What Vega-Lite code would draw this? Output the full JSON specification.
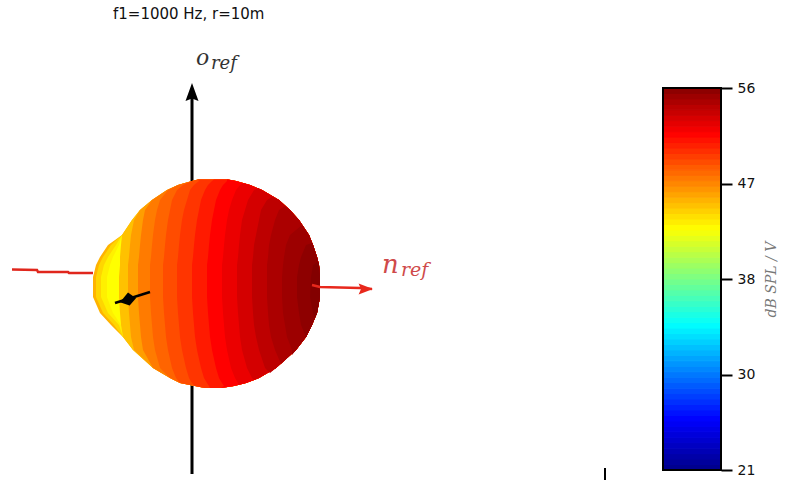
{"$schema":"https://vega.github.io/schema/vega-lite/v6.json","width":788,"height":480,"padding":0,"autosize":{"type":"none"},"background":"white","view":{"stroke":null},
"title":{"text":"f1=1000 Hz, r=10m","anchor":"start","frame":"group","dx":113,"offset":-22,"font":"DejaVu Sans","fontSize":15,"fontWeight":"normal","color":"#111"},
"datasets":{"balloon":[
{"v":45.5,"y":179.5,"x":198,"r":228},{"v":45.5,"y":181,"x":192,"r":236},{"v":45.5,"y":185,"x":178,"r":250},{"v":45.5,"y":190,"x":167,"r":262},{"v":45.5,"y":200,"x":152,"r":279},{"v":45.5,"y":210,"x":140,"r":290},{"v":45.5,"y":220,"x":132,"r":299},{"v":45.5,"y":235,"x":122,"r":309},{"v":45.5,"y":245,"x":108,"r":313},{"v":45.5,"y":257,"x":100,"r":317},{"v":45.5,"y":265,"x":96,"r":319},{"v":45.5,"y":277,"x":93,"r":320},{"v":45.5,"y":297,"x":93,"r":320},{"v":45.5,"y":313,"x":100,"r":317},{"v":45.5,"y":325,"x":111,"r":312},{"v":45.5,"y":337,"x":123,"r":306},{"v":45.5,"y":350,"x":133,"r":296},{"v":45.5,"y":368,"x":153,"r":276},{"v":45.5,"y":378,"x":170,"r":259},{"v":45.5,"y":383,"x":180,"r":246},{"v":45.5,"y":386,"x":195,"r":234},{"v":45.5,"y":388,"x":205,"r":221},
{"v":44.3,"y":235,"x":122,"r":125},{"v":44.3,"y":245,"x":111,"r":125},{"v":44.3,"y":257,"x":103,"r":125},{"v":44.3,"y":265,"x":99,"r":125},{"v":44.3,"y":277,"x":96,"r":125},{"v":44.3,"y":297,"x":96,"r":125},{"v":44.3,"y":313,"x":103,"r":125},{"v":44.3,"y":325,"x":114,"r":125},{"v":44.3,"y":337,"x":123,"r":125},
{"v":43.4,"y":235,"x":122,"r":125},{"v":43.4,"y":245,"x":116,"r":125},{"v":43.4,"y":257,"x":108,"r":125},{"v":43.4,"y":265,"x":104,"r":125},{"v":43.4,"y":277,"x":101,"r":125},{"v":43.4,"y":297,"x":101,"r":125},{"v":43.4,"y":313,"x":108,"r":125},{"v":43.4,"y":325,"x":119,"r":125},{"v":43.4,"y":337,"x":123,"r":125},
{"v":42.9,"y":235,"x":122,"r":125},{"v":42.9,"y":245,"x":119,"r":125},{"v":42.9,"y":257,"x":113,"r":125},{"v":42.9,"y":265,"x":110,"r":125},{"v":42.9,"y":277,"x":107,"r":125},{"v":42.9,"y":297,"x":107,"r":125},{"v":42.9,"y":313,"x":113,"r":125},{"v":42.9,"y":325,"x":121,"r":125},{"v":42.9,"y":337,"x":123,"r":125},
{"v":45,"y":179.5,"x":198,"r":228},{"v":45,"y":181,"x":192,"r":236},{"v":45,"y":185,"x":178,"r":250},{"v":45,"y":190,"x":167,"r":262},{"v":45,"y":200,"x":152,"r":279},{"v":45,"y":210,"x":140,"r":290},{"v":45,"y":220,"x":132,"r":299},{"v":45,"y":235,"x":122,"r":309},{"v":45,"y":245,"x":121,"r":313},{"v":45,"y":257,"x":120,"r":317},{"v":45,"y":265,"x":120,"r":319},{"v":45,"y":277,"x":119,"r":320},{"v":45,"y":297,"x":119,"r":320},{"v":45,"y":313,"x":120,"r":317},{"v":45,"y":325,"x":121,"r":312},{"v":45,"y":337,"x":123,"r":306},{"v":45,"y":350,"x":133,"r":296},{"v":45,"y":368,"x":153,"r":276},{"v":45,"y":378,"x":170,"r":259},{"v":45,"y":383,"x":180,"r":246},{"v":45,"y":386,"x":195,"r":234},{"v":45,"y":388,"x":205,"r":221},
{"v":46.2,"y":179.5,"x":198,"r":228},{"v":46.2,"y":181,"x":192,"r":236},{"v":46.2,"y":185,"x":178,"r":250},{"v":46.2,"y":190,"x":167,"r":262},{"v":46.2,"y":200,"x":152,"r":279},{"v":46.2,"y":210,"x":140,"r":290},{"v":46.2,"y":220,"x":134,"r":299},{"v":46.2,"y":235,"x":131,"r":309},{"v":46.2,"y":245,"x":130,"r":313},{"v":46.2,"y":257,"x":129,"r":317},{"v":46.2,"y":265,"x":128,"r":319},{"v":46.2,"y":277,"x":128,"r":320},{"v":46.2,"y":297,"x":128,"r":320},{"v":46.2,"y":313,"x":129,"r":317},{"v":46.2,"y":325,"x":130,"r":312},{"v":46.2,"y":337,"x":131,"r":306},{"v":46.2,"y":350,"x":134,"r":296},{"v":46.2,"y":368,"x":153,"r":276},{"v":46.2,"y":378,"x":170,"r":259},{"v":46.2,"y":383,"x":180,"r":246},{"v":46.2,"y":386,"x":195,"r":234},{"v":46.2,"y":388,"x":205,"r":221},
{"v":47.4,"y":179.5,"x":198,"r":228},{"v":47.4,"y":181,"x":192,"r":236},{"v":47.4,"y":185,"x":178,"r":250},{"v":47.4,"y":190,"x":167,"r":262},{"v":47.4,"y":200,"x":152,"r":279},{"v":47.4,"y":210,"x":145,"r":290},{"v":47.4,"y":220,"x":143,"r":299},{"v":47.4,"y":235,"x":141,"r":309},{"v":47.4,"y":245,"x":140,"r":313},{"v":47.4,"y":257,"x":139,"r":317},{"v":47.4,"y":265,"x":138,"r":319},{"v":47.4,"y":277,"x":138,"r":320},{"v":47.4,"y":297,"x":138,"r":320},{"v":47.4,"y":313,"x":139,"r":317},{"v":47.4,"y":325,"x":140,"r":312},{"v":47.4,"y":337,"x":141,"r":306},{"v":47.4,"y":350,"x":143,"r":296},{"v":47.4,"y":368,"x":153,"r":276},{"v":47.4,"y":378,"x":170,"r":259},{"v":47.4,"y":383,"x":180,"r":246},{"v":47.4,"y":386,"x":195,"r":234},{"v":47.4,"y":388,"x":205,"r":221},
{"v":48.2,"y":179.5,"x":198,"r":228},{"v":48.2,"y":181,"x":192,"r":236},{"v":48.2,"y":185,"x":178,"r":250},{"v":48.2,"y":190,"x":168,"r":262},{"v":48.2,"y":200,"x":160,"r":279},{"v":48.2,"y":210,"x":157,"r":290},{"v":48.2,"y":220,"x":155,"r":299},{"v":48.2,"y":235,"x":153,"r":309},{"v":48.2,"y":245,"x":152,"r":313},{"v":48.2,"y":257,"x":151,"r":317},{"v":48.2,"y":265,"x":150,"r":319},{"v":48.2,"y":277,"x":150,"r":320},{"v":48.2,"y":297,"x":150,"r":320},{"v":48.2,"y":313,"x":151,"r":317},{"v":48.2,"y":325,"x":152,"r":312},{"v":48.2,"y":337,"x":153,"r":306},{"v":48.2,"y":350,"x":155,"r":296},{"v":48.2,"y":368,"x":160,"r":276},{"v":48.2,"y":378,"x":170,"r":259},{"v":48.2,"y":383,"x":180,"r":246},{"v":48.2,"y":386,"x":195,"r":234},{"v":48.2,"y":388,"x":205,"r":221},
{"v":49,"y":179.5,"x":198,"r":228},{"v":49,"y":181,"x":192,"r":236},{"v":49,"y":185,"x":183,"r":250},{"v":49,"y":190,"x":177,"r":262},{"v":49,"y":200,"x":172,"r":279},{"v":49,"y":210,"x":170,"r":290},{"v":49,"y":220,"x":168,"r":299},{"v":49,"y":235,"x":166,"r":309},{"v":49,"y":245,"x":165,"r":313},{"v":49,"y":257,"x":164,"r":317},{"v":49,"y":265,"x":163,"r":319},{"v":49,"y":277,"x":163,"r":320},{"v":49,"y":297,"x":163,"r":320},{"v":49,"y":313,"x":164,"r":317},{"v":49,"y":325,"x":165,"r":312},{"v":49,"y":337,"x":166,"r":306},{"v":49,"y":350,"x":168,"r":296},{"v":49,"y":368,"x":172,"r":276},{"v":49,"y":378,"x":176,"r":259},{"v":49,"y":383,"x":180,"r":246},{"v":49,"y":386,"x":195,"r":234},{"v":49,"y":388,"x":205,"r":221},
{"v":49.8,"y":179.5,"x":198,"r":228},{"v":49.8,"y":181,"x":199,"r":236},{"v":49.8,"y":185,"x":194,"r":250},{"v":49.8,"y":190,"x":190,"r":262},{"v":49.8,"y":200,"x":187,"r":279},{"v":49.8,"y":210,"x":184,"r":290},{"v":49.8,"y":220,"x":182,"r":299},{"v":49.8,"y":235,"x":180,"r":309},{"v":49.8,"y":245,"x":179,"r":313},{"v":49.8,"y":257,"x":178,"r":317},{"v":49.8,"y":265,"x":177,"r":319},{"v":49.8,"y":277,"x":177,"r":320},{"v":49.8,"y":297,"x":177,"r":320},{"v":49.8,"y":313,"x":178,"r":317},{"v":49.8,"y":325,"x":179,"r":312},{"v":49.8,"y":337,"x":180,"r":306},{"v":49.8,"y":350,"x":182,"r":296},{"v":49.8,"y":368,"x":186,"r":276},{"v":49.8,"y":378,"x":189,"r":259},{"v":49.8,"y":383,"x":192,"r":246},{"v":49.8,"y":386,"x":195,"r":234},{"v":49.8,"y":388,"x":205,"r":221},
{"v":50.7,"y":179.5,"x":214,"r":228},{"v":50.7,"y":181,"x":212,"r":236},{"v":50.7,"y":185,"x":208,"r":250},{"v":50.7,"y":190,"x":205,"r":262},{"v":50.7,"y":200,"x":201,"r":279},{"v":50.7,"y":210,"x":199,"r":290},{"v":50.7,"y":220,"x":197,"r":299},{"v":50.7,"y":235,"x":195,"r":309},{"v":50.7,"y":245,"x":194,"r":313},{"v":50.7,"y":257,"x":193,"r":317},{"v":50.7,"y":265,"x":192,"r":319},{"v":50.7,"y":277,"x":192,"r":320},{"v":50.7,"y":297,"x":192,"r":320},{"v":50.7,"y":313,"x":193,"r":317},{"v":50.7,"y":325,"x":194,"r":312},{"v":50.7,"y":337,"x":195,"r":306},{"v":50.7,"y":350,"x":197,"r":296},{"v":50.7,"y":368,"x":201,"r":276},{"v":50.7,"y":378,"x":204,"r":259},{"v":50.7,"y":383,"x":207,"r":246},{"v":50.7,"y":386,"x":209,"r":234},{"v":50.7,"y":388,"x":210,"r":221},
{"v":51.6,"y":179.5,"x":227,"r":228},{"v":51.6,"y":181,"x":227,"r":236},{"v":51.6,"y":185,"x":223,"r":250},{"v":51.6,"y":190,"x":220,"r":262},{"v":51.6,"y":200,"x":216,"r":279},{"v":51.6,"y":210,"x":214,"r":290},{"v":51.6,"y":220,"x":212,"r":299},{"v":51.6,"y":235,"x":210,"r":309},{"v":51.6,"y":245,"x":209,"r":313},{"v":51.6,"y":257,"x":208,"r":317},{"v":51.6,"y":265,"x":207,"r":319},{"v":51.6,"y":277,"x":207,"r":320},{"v":51.6,"y":297,"x":207,"r":320},{"v":51.6,"y":313,"x":208,"r":317},{"v":51.6,"y":325,"x":209,"r":312},{"v":51.6,"y":337,"x":210,"r":306},{"v":51.6,"y":350,"x":212,"r":296},{"v":51.6,"y":368,"x":216,"r":276},{"v":51.6,"y":378,"x":219,"r":259},{"v":51.6,"y":383,"x":222,"r":246},{"v":51.6,"y":386,"x":224,"r":234},{"v":51.6,"y":388,"x":221,"r":221},
{"v":52.3,"y":183,"x":243,"r":243},{"v":52.3,"y":185,"x":240,"r":250},{"v":52.3,"y":190,"x":236,"r":262},{"v":52.3,"y":200,"x":232,"r":279},{"v":52.3,"y":210,"x":229,"r":290},{"v":52.3,"y":220,"x":227,"r":299},{"v":52.3,"y":235,"x":225,"r":309},{"v":52.3,"y":245,"x":224,"r":313},{"v":52.3,"y":257,"x":223,"r":317},{"v":52.3,"y":265,"x":222,"r":319},{"v":52.3,"y":277,"x":222,"r":320},{"v":52.3,"y":297,"x":222,"r":320},{"v":52.3,"y":313,"x":223,"r":317},{"v":52.3,"y":325,"x":224,"r":312},{"v":52.3,"y":337,"x":225,"r":306},{"v":52.3,"y":350,"x":227,"r":296},{"v":52.3,"y":368,"x":231,"r":276},{"v":52.3,"y":378,"x":235,"r":259},{"v":52.3,"y":383,"x":238,"r":246},{"v":52.3,"y":385,"x":238,"r":238},
{"v":53.1,"y":188,"x":258,"r":258},{"v":53.1,"y":190,"x":254,"r":262},{"v":53.1,"y":200,"x":248,"r":279},{"v":53.1,"y":210,"x":245,"r":290},{"v":53.1,"y":220,"x":242,"r":299},{"v":53.1,"y":235,"x":240,"r":309},{"v":53.1,"y":245,"x":239,"r":313},{"v":53.1,"y":257,"x":238,"r":317},{"v":53.1,"y":265,"x":237,"r":319},{"v":53.1,"y":277,"x":237,"r":320},{"v":53.1,"y":297,"x":237,"r":320},{"v":53.1,"y":313,"x":238,"r":317},{"v":53.1,"y":325,"x":239,"r":312},{"v":53.1,"y":337,"x":240,"r":306},{"v":53.1,"y":350,"x":242,"r":296},{"v":53.1,"y":368,"x":247,"r":276},{"v":53.1,"y":378,"x":252,"r":259},{"v":53.1,"y":380,"x":254,"r":254},
{"v":53.9,"y":197,"x":272,"r":272},{"v":53.9,"y":200,"x":267,"r":279},{"v":53.9,"y":210,"x":261,"r":290},{"v":53.9,"y":220,"x":259,"r":299},{"v":53.9,"y":235,"x":256,"r":309},{"v":53.9,"y":245,"x":254,"r":313},{"v":53.9,"y":257,"x":253,"r":317},{"v":53.9,"y":265,"x":252,"r":319},{"v":53.9,"y":277,"x":252,"r":320},{"v":53.9,"y":297,"x":252,"r":320},{"v":53.9,"y":313,"x":253,"r":317},{"v":53.9,"y":325,"x":254,"r":312},{"v":53.9,"y":337,"x":256,"r":306},{"v":53.9,"y":350,"x":259,"r":296},{"v":53.9,"y":368,"x":265,"r":276},{"v":53.9,"y":373,"x":270,"r":270},
{"v":54.5,"y":206,"x":285,"r":285},{"v":54.5,"y":210,"x":279,"r":290},{"v":54.5,"y":220,"x":275,"r":299},{"v":54.5,"y":235,"x":271,"r":309},{"v":54.5,"y":245,"x":269,"r":313},{"v":54.5,"y":257,"x":268,"r":317},{"v":54.5,"y":265,"x":267,"r":319},{"v":54.5,"y":277,"x":267,"r":320},{"v":54.5,"y":297,"x":267,"r":320},{"v":54.5,"y":313,"x":268,"r":317},{"v":54.5,"y":325,"x":269,"r":312},{"v":54.5,"y":337,"x":271,"r":306},{"v":54.5,"y":350,"x":275,"r":296},{"v":54.5,"y":364,"x":281,"r":281},
{"v":55,"y":225,"x":302,"r":302},{"v":55,"y":235,"x":290,"r":309},{"v":55,"y":245,"x":286,"r":313},{"v":55,"y":257,"x":284,"r":317},{"v":55,"y":265,"x":283,"r":319},{"v":55,"y":277,"x":282,"r":320},{"v":55,"y":297,"x":282,"r":320},{"v":55,"y":313,"x":283,"r":317},{"v":55,"y":325,"x":285,"r":312},{"v":55,"y":337,"x":287,"r":306},{"v":55,"y":350,"x":292,"r":296},{"v":55,"y":355,"x":292,"r":292},
{"v":55.5,"y":243,"x":312,"r":312},{"v":55.5,"y":245,"x":306,"r":313},{"v":55.5,"y":257,"x":301,"r":317},{"v":55.5,"y":265,"x":299,"r":319},{"v":55.5,"y":277,"x":297,"r":320},{"v":55.5,"y":297,"x":297,"r":320},{"v":55.5,"y":313,"x":299,"r":317},{"v":55.5,"y":325,"x":301,"r":312},{"v":55.5,"y":337,"x":306,"r":306},
{"v":55.9,"y":262,"x":318,"r":318},{"v":55.9,"y":265,"x":313,"r":319},{"v":55.9,"y":277,"x":311,"r":320},{"v":55.9,"y":297,"x":310,"r":320},{"v":55.9,"y":313,"x":313,"r":317},{"v":55.9,"y":318,"x":315,"r":315}
],
"bar":[{"low":21,"high":21.5},{"low":21.5,"high":22},{"low":22,"high":22.5},{"low":22.5,"high":23},{"low":23,"high":23.5},{"low":23.5,"high":24},{"low":24,"high":24.5},{"low":24.5,"high":25},{"low":25,"high":25.5},{"low":25.5,"high":26},{"low":26,"high":26.5},{"low":26.5,"high":27},{"low":27,"high":27.5},{"low":27.5,"high":28},{"low":28,"high":28.5},{"low":28.5,"high":29},{"low":29,"high":29.5},{"low":29.5,"high":30},{"low":30,"high":30.5},{"low":30.5,"high":31},{"low":31,"high":31.5},{"low":31.5,"high":32},{"low":32,"high":32.5},{"low":32.5,"high":33},{"low":33,"high":33.5},{"low":33.5,"high":34},{"low":34,"high":34.5},{"low":34.5,"high":35},{"low":35,"high":35.5},{"low":35.5,"high":36},{"low":36,"high":36.5},{"low":36.5,"high":37},{"low":37,"high":37.5},{"low":37.5,"high":38},{"low":38,"high":38.5},{"low":38.5,"high":39},{"low":39,"high":39.5},{"low":39.5,"high":40},{"low":40,"high":40.5},{"low":40.5,"high":41},{"low":41,"high":41.5},{"low":41.5,"high":42},{"low":42,"high":42.5},{"low":42.5,"high":43},{"low":43,"high":43.5},{"low":43.5,"high":44},{"low":44,"high":44.5},{"low":44.5,"high":45},{"low":45,"high":45.5},{"low":45.5,"high":46},{"low":46,"high":46.5},{"low":46.5,"high":47},{"low":47,"high":47.5},{"low":47.5,"high":48},{"low":48,"high":48.5},{"low":48.5,"high":49},{"low":49,"high":49.5},{"low":49.5,"high":50},{"low":50,"high":50.5},{"low":50.5,"high":51},{"low":51,"high":51.5},{"low":51.5,"high":52},{"low":52,"high":52.5},{"low":52.5,"high":53},{"low":53,"high":53.5},{"low":53.5,"high":54},{"low":54,"high":54.5},{"low":54.5,"high":55},{"low":55,"high":55.5},{"low":55.5,"high":56}],
"oAxis":[{"x":192,"y":98},{"x":192,"y":474}],
"nBack":[{"x":12,"y":269.5},{"x":37,"y":270},{"x":38,"y":272},{"x":68,"y":272},{"x":69,"y":273},{"x":93,"y":273}],
"nFront":[{"x":312,"y":285},{"x":320,"y":287},{"x":360,"y":288},{"x":372,"y":289}],
"black":[{"x":115,"y":303},{"x":150,"y":292}],
"stray":[{"x":605,"y":468},{"x":605,"y":480}]
},
"layer":[
{"layer":[
{"data":{"name":"oAxis"},"mark":{"type":"line","color":"black","strokeWidth":3},"encoding":{"x":{"field":"x","type":"quantitative","scale":{"domain":[0,788],"range":[0,788],"nice":false},"axis":null},"y":{"field":"y","type":"quantitative","scale":{"domain":[0,480],"range":[0,480],"nice":false,"zero":false},"axis":null}}},
{"data":{"values":[{"x":192,"y":93}]},"mark":{"type":"point","filled":true,"opacity":1,"color":"black","shape":"M0,-1L0.65,0.8L0,0.55L-0.65,0.8Z","size":400},"encoding":{"x":{"field":"x","type":"quantitative"},"y":{"field":"y","type":"quantitative"}}},
{"data":{"name":"nBack"},"mark":{"type":"line","color":"#e0261c","strokeWidth":2.5},"encoding":{"x":{"field":"x","type":"quantitative"},"y":{"field":"y","type":"quantitative"}}},
{"data":{"name":"balloon"},"mark":{"type":"area","orient":"horizontal","interpolate":"linear","opacity":1,"clip":false},"encoding":{"x":{"field":"x","type":"quantitative"},"x2":{"field":"r"},"y":{"field":"y","type":"quantitative"},"detail":{"field":"v","type":"nominal"},"color":{"field":"v","type":"quantitative","legend":null,"scale":{"domain":[21,25.4,34.1,42.9,51.6,56],"range":["#00008f","#0000ff","#00ffff","#ffff00","#ff0000","#800000"],"interpolate":"rgb"}}}},
{"data":{"name":"nFront"},"mark":{"type":"line","color":"#e8281c","strokeWidth":2.5},"encoding":{"x":{"field":"x","type":"quantitative"},"y":{"field":"y","type":"quantitative"}}},
{"data":{"values":[{"x":365,"y":289}]},"mark":{"type":"point","filled":true,"opacity":1,"color":"#e8281c","shape":"M1,0L-0.8,0.7L-0.5,0L-0.8,-0.7Z","size":256},"encoding":{"x":{"field":"x","type":"quantitative"},"y":{"field":"y","type":"quantitative"}}},
{"data":{"name":"black"},"mark":{"type":"line","color":"black","strokeWidth":2.5},"encoding":{"x":{"field":"x","type":"quantitative"},"y":{"field":"y","type":"quantitative"}}},
{"data":{"values":[{"x":128,"y":299}]},"mark":{"type":"point","filled":true,"opacity":1,"color":"black","shape":"M-1,0.4L0,-0.8L1,-0.1L0.2,0.8Z","size":256},"encoding":{"x":{"field":"x","type":"quantitative"},"y":{"field":"y","type":"quantitative"}}},
{"data":{"name":"stray"},"mark":{"type":"line","color":"black","strokeWidth":2},"encoding":{"x":{"field":"x","type":"quantitative"},"y":{"field":"y","type":"quantitative"}}},
{"data":{"values":[{"x":196,"y":65,"t":"o"}]},"mark":{"type":"text","align":"left","baseline":"alphabetic","font":"DejaVu Serif","fontStyle":"italic","fontSize":22,"color":"#333333"},"encoding":{"x":{"field":"x","type":"quantitative"},"y":{"field":"y","type":"quantitative"},"text":{"field":"t"}}},
{"data":{"values":[{"x":211,"y":69,"t":"ref"}]},"mark":{"type":"text","align":"left","baseline":"alphabetic","font":"DejaVu Serif","fontStyle":"italic","fontSize":18,"color":"#333333"},"encoding":{"x":{"field":"x","type":"quantitative"},"y":{"field":"y","type":"quantitative"},"text":{"field":"t"}}},
{"data":{"values":[{"x":382,"y":273,"t":"n"}]},"mark":{"type":"text","align":"left","baseline":"alphabetic","font":"DejaVu Serif","fontStyle":"italic","fontSize":26,"color":"#cf4a4a"},"encoding":{"x":{"field":"x","type":"quantitative"},"y":{"field":"y","type":"quantitative"},"text":{"field":"t"}}},
{"data":{"values":[{"x":401,"y":276,"t":"ref"}]},"mark":{"type":"text","align":"left","baseline":"alphabetic","font":"DejaVu Serif","fontStyle":"italic","fontSize":19,"color":"#cf4a4a"},"encoding":{"x":{"field":"x","type":"quantitative"},"y":{"field":"y","type":"quantitative"},"text":{"field":"t"}}}
]},
{"layer":[
{"data":{"name":"bar"},"mark":{"type":"rect","strokeWidth":1},"encoding":{"x":{"datum":663,"type":"quantitative"},"x2":{"datum":721},"y":{"field":"low","type":"quantitative","scale":{"domain":[21,56],"range":[470,88],"nice":false,"zero":false},"axis":{"orient":"right","offset":-67,"values":[21,29.75,38.5,47.25,56],"labelExpr":"floor(datum.value+0.49)","domain":false,"grid":false,"ticks":true,"tickSize":11,"tickWidth":2,"tickColor":"black","labelPadding":5,"labelFont":"DejaVu Sans","labelFontSize":14,"labelColor":"#111","labelOverlap":false,"title":"dB SPL / V","titleFont":"DejaVu Serif","titleFontStyle":"italic","titleFontWeight":"normal","titleFontSize":14,"titleColor":"#777777","titleAngle":-90,"titleX":57,"titleY":279}},"y2":{"field":"high"},"color":{"field":"low","type":"quantitative","legend":null,"scale":{"domain":[21,25.4,34.1,42.9,51.6,56],"range":["#00008f","#0000ff","#00ffff","#ffff00","#ff0000","#800000"],"interpolate":"rgb"}},"stroke":{"field":"low","type":"quantitative","legend":null,"scale":{"domain":[21,25.4,34.1,42.9,51.6,56],"range":["#00008f","#0000ff","#00ffff","#ffff00","#ff0000","#800000"],"interpolate":"rgb"}}}},
{"data":{"values":[{"lo":21,"hi":56}]},"mark":{"type":"rect","fillOpacity":0,"stroke":"black","strokeWidth":2},"encoding":{"x":{"datum":663,"type":"quantitative"},"x2":{"datum":721},"y":{"field":"lo","type":"quantitative"},"y2":{"field":"hi"}}}
]}
],
"resolve":{"scale":{"y":"independent"},"axis":{"y":"independent"}}
}
